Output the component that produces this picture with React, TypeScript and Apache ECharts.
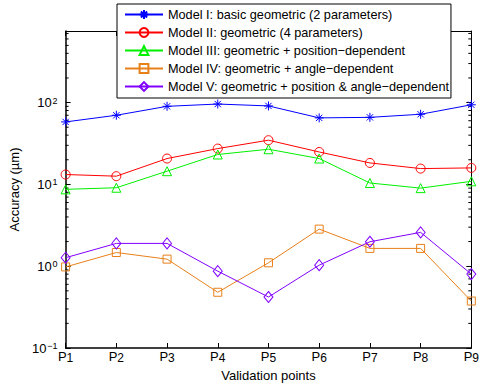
import React, { useEffect, useRef } from 'react';
import * as echarts from 'echarts';

const categories = ['P1', 'P2', 'P3', 'P4', 'P5', 'P6', 'P7', 'P8', 'P9'];
const seriesNames = [
  'Model I: basic geometric (2 parameters)',
  'Model II: geometric (4 parameters)',
  'Model III: geometric + position\u2212dependent',
  'Model IV: geometric + angle\u2212dependent',
  'Model V: geometric + position & angle\u2212dependent',
];
const modelI = [58, 70, 90, 96, 91, 65, 66, 72, 94];
const modelII = [13.2, 12.6, 20.7, 27.4, 34.7, 24.9, 18.3, 15.6, 15.9];
const modelIII = [8.7, 9.1, 14.5, 23.2, 26.9, 20.7, 10.4, 9.0, 10.9];
const modelIV = [0.98, 1.47, 1.22, 0.48, 1.1, 2.84, 1.65, 1.65, 0.375];
const modelV = [1.27, 1.9, 1.9, 0.87, 0.42, 1.03, 1.99, 2.59, 0.8];
const yMin = 0.1;
const yMax = 750;
const minorTickValues = [
  0.2, 0.3, 0.4, 0.5, 0.6, 0.7, 0.8, 0.9,
  2, 3, 4, 5, 6, 7, 8, 9,
  20, 30, 40, 50, 60, 70, 80, 90,
  200, 300, 400, 500, 600, 700,
];

const FONT = '"Liberation Sans", Arial, Helvetica, sans-serif';
const asterisk = 'path://M5,0L5,10M0,5L10,5M1.5,1.5L8.5,8.5M1.5,8.5L8.5,1.5';

const colors = ['#0000ff', '#ff0000', '#00f000', '#e8801a', '#8000ff'];
const symbols = [asterisk, 'circle', 'triangle', 'rect', 'diamond'];
const symbolSizes: any[] = [9, 9, 9, 8, [9, 11]];
const dataSets = [modelI, modelII, modelIII, modelIV, modelV];

export default function App() {
  const ref = useRef<HTMLDivElement>(null);
  useEffect(() => {
    document.body.style.margin = '0';
    const chart = echarts.init(ref.current!, null, { renderer: 'svg' });
    const lineSeries = dataSets.map((d, i) => ({
      type: 'line',
      name: seriesNames[i],
      data: d,
      xAxisIndex: 0,
      yAxisIndex: 0,
      symbol: symbols[i],
      symbolSize: symbolSizes[i],
      showSymbol: true,
      lineStyle: { color: colors[i], width: 1 },
      itemStyle: { color: 'rgba(255,255,255,0)', borderColor: colors[i], borderWidth: 1 },
      emphasis: { disabled: true },
      z: 3,
    }));
    const tickSeries = {
      type: 'custom',
      silent: true,
      xAxisIndex: 0,
      yAxisIndex: 0,
      clip: false,
      data: minorTickValues.map((v) => [0, v]),
      renderItem: (params: any, api: any) => {
        const v = api.value(1);
        const l = api.coord([0, v]);
        const r = api.coord([categories.length - 1, v]);
        return {
          type: 'group',
          children: [
            { type: 'line', shape: { x1: l[0], y1: l[1], x2: l[0] + 3, y2: l[1] }, style: { stroke: '#000', lineWidth: 1 } },
            { type: 'line', shape: { x1: r[0] - 3, y1: r[1], x2: r[0], y2: r[1] }, style: { stroke: '#000', lineWidth: 1 } },
          ],
        };
      },
      z: 2,
    };
    const xLabel = (v: string) => `{p|${v.slice(0, 1)}}{s|${v.slice(1)}}`;
    const yLabel = (v: number) => {
      const e = Math.round(Math.log10(v));
      return `{b|10}{s|${e < 0 ? '\u2212' + Math.abs(e) : e}}`;
    };
    chart.setOption({
      animation: false,
      backgroundColor: '#fff',
      grid: { left: 60, right: 7, top: 31, bottom: 40, containLabel: false },
      legend: {
        data: seriesNames,
        orient: 'vertical',
        left: 117,
        top: 4,
        itemWidth: 38,
        itemHeight: 11,
        itemGap: 5,
        padding: [4, 2, 5, 7],
        backgroundColor: '#fff',
        borderColor: '#000',
        borderWidth: 1,
        borderRadius: 0,
        selectedMode: false,
        textStyle: { fontSize: 12.7, lineHeight: 13, color: '#000', fontFamily: FONT },
      },
      xAxis: [
        {
          type: 'category',
          data: categories,
          boundaryGap: false,
          name: 'Validation points',
          nameLocation: 'middle',
          nameGap: 20,
          nameTextStyle: { fontSize: 13, color: '#000', fontFamily: FONT },
          axisLine: { lineStyle: { color: '#000', width: 1.5 } },
          axisTick: { inside: true, length: 5, interval: 0, lineStyle: { color: '#000' } },
          axisLabel: {
            interval: 0,
            margin: 2,
            formatter: xLabel,
            rich: {
              p: { fontSize: 13, color: '#000', fontFamily: FONT, verticalAlign: 'top', lineHeight: 14 },
              s: { fontSize: 12, color: '#000', fontFamily: FONT, verticalAlign: 'bottom', lineHeight: 12, padding: [4, 0, 0, 0] },
            },
          },
          splitLine: { show: false },
        },
        {
          type: 'category',
          data: categories,
          boundaryGap: false,
          position: 'top',
          axisLine: { lineStyle: { color: '#000', width: 1 } },
          axisTick: { inside: true, length: 5, interval: 0, lineStyle: { color: '#000' } },
          axisLabel: { show: false },
          splitLine: { show: false },
        },
      ],
      yAxis: [
        {
          type: 'log',
          logBase: 10,
          min: yMin,
          max: yMax,
          name: 'Accuracy (\u00b5m)',
          nameLocation: 'middle',
          nameGap: 33,
          nameTextStyle: { fontSize: 13, color: '#000', fontFamily: FONT },
          axisLine: { show: true, lineStyle: { color: '#000', width: 1.5 } },
          axisTick: { show: true, inside: true, length: 5, lineStyle: { color: '#000' } },
          axisLabel: {
            margin: 8,
            showMaxLabel: false,
            formatter: yLabel,
            rich: {
              b: { fontSize: 13, color: '#000', fontFamily: FONT, verticalAlign: 'bottom', lineHeight: 13 },
              s: { fontSize: 9, color: '#000', fontFamily: FONT, verticalAlign: 'top', lineHeight: 9, padding: [0, 0, 8, 1] },
            },
          },
          splitLine: { show: false },
        },
        {
          type: 'log',
          logBase: 10,
          min: yMin,
          max: yMax,
          position: 'right',
          axisLine: { show: true, lineStyle: { color: '#000', width: 1 } },
          axisTick: { show: true, inside: true, length: 5, lineStyle: { color: '#000' } },
          axisLabel: { show: false },
          splitLine: { show: false },
        },
      ],
      series: [tickSeries, ...lineSeries],
    });
    return () => chart.dispose();
  }, []);
  return <div ref={ref} style={{ width: 482, height: 388 }} />;
}
